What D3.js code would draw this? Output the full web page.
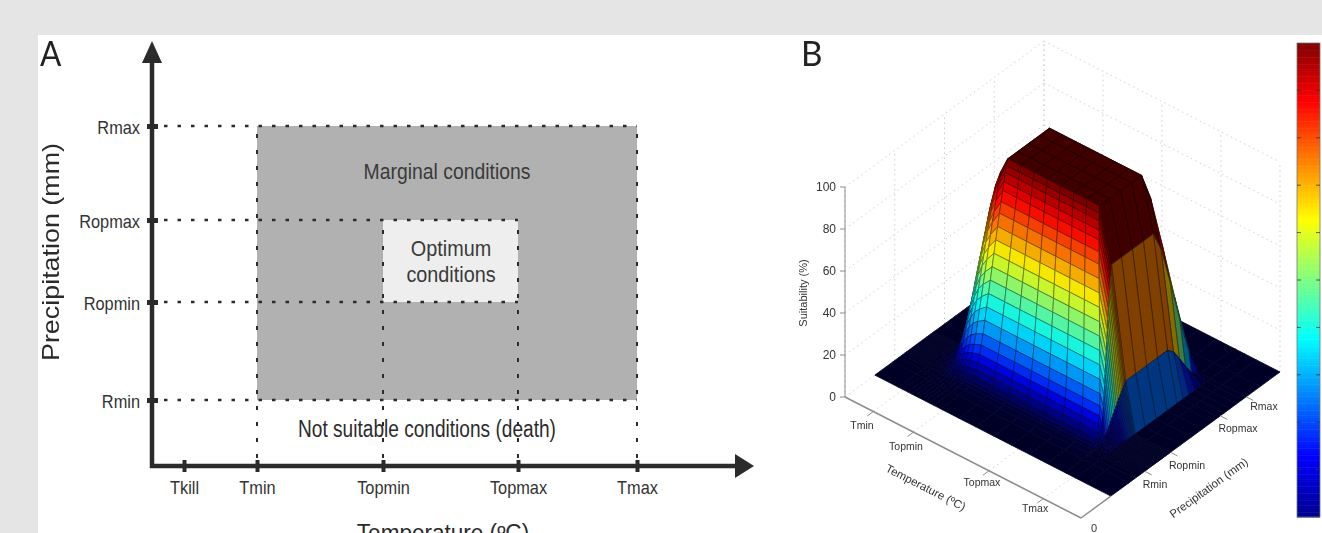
<!DOCTYPE html>
<html>
<head>
<meta charset="utf-8">
<script src="https://cdn.jsdelivr.net/npm/d3@7"></script>
<style>
  html, body { margin: 0; padding: 0; background: #e5e5e5; overflow: hidden; }
  svg { display: block; filter: blur(0.5px); }
  text { font-family: "Liberation Sans", Arial, sans-serif; }
</style>
</head>
<body>
<svg id="chart" width="1322" height="533"></svg>
<script>
// panel A: limits, positions are in axis units
var tempLabels = ["Tkill", "Tmin", "Topmin", "Topmax", "Tmax"];
var tempLimits = [32, 105, 231, 366, 485];
var precLabels = ["Rmin", "Ropmin", "Ropmax", "Rmax"];
var precLimits = [66, 164, 246, 340];

// panel B: response of suitability (%) along each axis, axes run 0-1
var tempGrid = [0, 0.1, 0.12, 0.14, 0.16, 0.18, 0.2, 0.22, 0.24, 0.26, 0.28, 0.31, 0.366, 0.422, 0.478, 0.534, 0.59, 0.645, 0.7, 0.75, 0.81, 0.85, 0.9, 1];
var tempResp = [0, 0, 1, 4, 11, 24, 42, 62, 75, 85, 92, 100, 100, 100, 100, 100, 100, 100, 100, 75, 23, 0, 0, 0];
// how far each temperature line fans out at the foot of the hill
var tempSpread = [0, 0, 0, 0, -0.005, -0.01, -0.015, -0.02, -0.025, -0.03, -0.03, -0.03, -0.01, 0.005, 0.025, 0.045, 0.065, 0.085, 0.105, 0.06, 0, 0, 0, 0];
var precGrid = [0.15, 0.24, 0.27, 0.29, 0.3, 0.31, 0.318, 0.326, 0.333, 0.34, 0.347, 0.354, 0.361, 0.368, 0.375, 0.382, 0.389, 0.396, 0.403, 0.41, 0.417, 0.424, 0.43, 0.435, 0.44, 0.445, 0.45, 0.5, 0.555, 0.61, 0.66, 0.69, 0.72, 0.75, 0.78, 0.81, 0.83, 0.9, 1];
var precResp = [0, 0, 0.5, 1, 1.5, 2.5, 4, 6.5, 9.5, 13, 17, 22, 28, 34, 40, 46, 52, 58, 64, 70, 76, 81, 86, 90, 94, 97, 100, 100, 100, 100, 100, 88, 65, 40, 18, 5, 0, 0, 0];

var suitTicks = [0, 20, 40, 60, 80, 100];
var tempTicks3d = [0.12, 0.29, 0.61, 0.84];
var tempTickLabels = ["Tmin", "Topmin", "Topmax", "Tmax"];
var precTicks3d = [0.32, 0.45, 0.7, 0.83];
var precTickLabels = ["Rmin", "Ropmin", "Ropmax", "Rmax"];
var wallGrid = [0.25, 0.5, 0.75];
var barTicks = [10, 20, 30, 40, 50, 60, 70, 80, 90];

var jetStops = [0, 12.5, 37.5, 62.5, 87.5, 100];
var jetColors = ["rgb(0,0,143)", "rgb(0,0,255)", "rgb(0,255,255)", "rgb(255,255,0)", "rgb(255,0,0)", "rgb(128,0,0)"];

var svg = d3.select("#chart");
var dark = "#2b2b2b";

svg.append("rect").attr("x", 38).attr("y", 35).attr("width", 1284).attr("height", 498).attr("fill", "#fff");

// squeeze a text to the narrow look of the original lettering
function squeeze(sel, k) {
    sel.each(function () {
        d3.select(this)
            .attr("textLength", this.getComputedTextLength() * k)
            .attr("lengthAdjust", "spacingAndGlyphs");
    });
}

/* ---------- panel A ---------- */
var x = d3.scaleLinear().domain([0, 600]).range([152, 752]);
var y = d3.scaleLinear().domain([0, 421]).range([466, 45]);
var a = svg.append("g");

a.append("rect")
    .attr("x", x(tempLimits[1])).attr("y", y(precLimits[3]))
    .attr("width", x(tempLimits[4]) - x(tempLimits[1]))
    .attr("height", y(precLimits[0]) - y(precLimits[3]))
    .attr("fill", "#b1b1b1");
a.append("rect")
    .attr("x", x(tempLimits[2])).attr("y", y(precLimits[2]))
    .attr("width", x(tempLimits[3]) - x(tempLimits[2]))
    .attr("height", y(precLimits[1]) - y(precLimits[2]))
    .attr("fill", "#eeeeee");

// dotted guides
var hEnd = [tempLimits[4], tempLimits[3], tempLimits[3], tempLimits[4]];
var vEnd = [precLimits[3], precLimits[2], precLimits[2], precLimits[3]];
a.selectAll("line.hg").data(precLimits).enter().append("line").attr("class", "hg")
    .attr("x1", x(0) + 12).attr("x2", function (d, i) { return x(hEnd[i]); })
    .attr("y1", function (d) { return y(d); }).attr("y2", function (d) { return y(d); })
    .attr("stroke", dark).attr("stroke-width", 2.3).attr("stroke-dasharray", "3.5 10");
a.selectAll("line.vg").data(tempLimits.slice(1)).enter().append("line").attr("class", "vg")
    .attr("x1", function (d) { return x(d); }).attr("x2", function (d) { return x(d); })
    .attr("y1", y(0) - 8).attr("y2", function (d, i) { return y(vEnd[i]); })
    .attr("stroke", dark).attr("stroke-width", 2).attr("stroke-dasharray", "4 12");

// axes
var xAxis = a.append("g").attr("transform", "translate(0," + y(0) + ")")
    .call(d3.axisBottom(x).tickValues(tempLimits).tickSize(0).tickPadding(15)
        .tickFormat(function (d, i) { return tempLabels[i]; }));
xAxis.select(".domain").remove();
xAxis.selectAll("text").attr("font-size", 19).attr("fill", "#333").attr("font-family", "Liberation Sans").call(squeeze, 0.86);
xAxis.selectAll(".tick").append("line").attr("y1", -6).attr("y2", 6).attr("stroke", dark).attr("stroke-width", 4);

var yAxis = a.append("g").attr("transform", "translate(" + x(0) + ",0)")
    .call(d3.axisLeft(y).tickValues(precLimits).tickSize(0).tickPadding(12)
        .tickFormat(function (d, i) { return precLabels[i]; }));
yAxis.select(".domain").remove();
yAxis.selectAll("text").attr("font-size", 19).attr("fill", "#333").attr("font-family", "Liberation Sans").attr("dy", "0.37em").call(squeeze, 0.86);
yAxis.selectAll(".tick").append("line").attr("x1", -5).attr("x2", 6).attr("stroke", dark).attr("stroke-width", 5);

a.append("path")
    .attr("d", "M" + x(0) + "," + y(408) + "V" + y(0) + "H" + x(590))
    .attr("fill", "none").attr("stroke", dark).attr("stroke-width", 4.5);
a.append("path")
    .attr("d", "M" + x(0) + "," + y(425) + "l10,22h-20z")
    .attr("fill", dark);
a.append("path")
    .attr("d", "M" + x(602) + "," + y(0) + "l-19,-12v24z")
    .attr("fill", dark);

a.append("text").attr("x", 447).attr("y", 179).attr("text-anchor", "middle")
    .attr("font-size", 22).attr("fill", "#3a3a3a").text("Marginal conditions").call(squeeze, 0.88);
a.append("text").attr("x", 451).attr("y", 256).attr("text-anchor", "middle")
    .attr("font-size", 22).attr("fill", "#3a3a3a").text("Optimum").call(squeeze, 0.9);
a.append("text").attr("x", 451).attr("y", 282).attr("text-anchor", "middle")
    .attr("font-size", 22).attr("fill", "#3a3a3a").text("conditions").call(squeeze, 0.9);
a.append("text").attr("x", 427).attr("y", 437).attr("text-anchor", "middle")
    .attr("font-size", 23).attr("fill", "#2b2b2b").text("Not suitable conditions (death)").call(squeeze, 0.83);
a.append("text").attr("x", 443).attr("y", 541).attr("text-anchor", "middle")
    .attr("font-size", 23).attr("fill", "#2b2b2b").text("Temperature (ºC)").call(squeeze, 0.98);
a.append("text").attr("transform", "translate(59,252) rotate(-90)").attr("text-anchor", "middle")
    .attr("font-size", 24).attr("fill", "#2b2b2b").text("Precipitation (mm)").call(squeeze, 1.12);
a.append("text").attr("x", 40).attr("y", 66).attr("font-size", 35).attr("fill", "#222")
    .style("font-family", "Lato").text("A").call(squeeze, 0.9);

/* ---------- panel B ---------- */
// orthographic box: temperature runs down-right, precipitation up-right
var tX = d3.scaleLinear().domain([0, 1]).range([0, 236]);
var tY = d3.scaleLinear().domain([0, 1]).range([0, 121]);
var rX = d3.scaleLinear().domain([0, 1]).range([0, 199]);
var rY = d3.scaleLinear().domain([0, 1]).range([0, -146]);
var zY = d3.scaleLinear().domain([0, 100]).range([0, -210]);

function proj(t, r, z) {
    return [845 + tX(t) + rX(r), 397 + tY(t) + rY(r) + zY(z)];
}
function segment(p, q) {
    return "M" + p[0] + "," + p[1] + "L" + q[0] + "," + q[1];
}
// grid node i,j of the surface
function node(i, j) {
    var t = tempGrid[i] + tempSpread[i] * (1 - precResp[j] / 100);
    return proj(t, precGrid[j], tempResp[i] * precResp[j] / 100);
}

var jet = d3.scaleLinear().domain(jetStops).range(jetColors).clamp(true);
var b = svg.append("g");

// dotted box grid
var gridLines = [];
suitTicks.forEach(function (z) {
    gridLines.push(segment(proj(0, 0, z), proj(0, 1, z)));
    gridLines.push(segment(proj(0, 1, z), proj(1, 1, z)));
});
wallGrid.concat([0, 1]).forEach(function (v) {
    gridLines.push(segment(proj(0, v, 0), proj(0, v, 100)));
    gridLines.push(segment(proj(v, 1, 0), proj(v, 1, 100)));
});
tempTicks3d.forEach(function (v) {
    gridLines.push(segment(proj(v, 0, 0), proj(v, 1, 0)));
});
b.selectAll("path.grid").data(gridLines).enter().append("path").attr("class", "grid")
    .attr("d", function (d) { return d; })
    .attr("stroke", "#cfcfcf").attr("stroke-width", 1).attr("stroke-dasharray", "1.5 3.5").attr("fill", "none");

// surface facets, painted from the far corner to the near one
var facets = [];
for (var j = precGrid.length - 2; j >= 0; j--) {
    for (var i = 0; i < tempGrid.length - 1; i++) {
        var z00 = tempResp[i] * precResp[j] / 100;
        var z10 = tempResp[i + 1] * precResp[j] / 100;
        var z01 = tempResp[i] * precResp[j + 1] / 100;
        var z11 = tempResp[i + 1] * precResp[j + 1] / 100;
        var dt = tempGrid[i + 1] - tempGrid[i];
        var dr = precGrid[j + 1] - precGrid[j];
        var dzdt = ((z10 + z11) - (z00 + z01)) / 2 / dt / 100 * 0.5;
        var dzdr = ((z01 + z11) - (z00 + z10)) / 2 / dr / 100 * 0.5;
        var len = Math.sqrt(dzdt * dzdt + dzdr * dzdr + 1);
        var lit = Math.max(0, (0.3 * dzdt + 0.95 * dzdr) / len);
        var peak = Math.max(z00, z10, z01, z11);
        var base = d3.rgb(jet(peak));
        var shade = 0.5 + 0.5 * lit;
        // the foot of the hill fades into the dark floor
        if (peak < 16) shade *= 0.55 + 0.45 * peak / 16;
        var fill = d3.rgb(base.r * shade, base.g * shade, base.b * shade);
        facets.push({
            pts: [node(i, j), node(i + 1, j), node(i + 1, j + 1), node(i, j + 1)],
            fill: fill.formatRgb(),
            edge: peak < 3 ? fill.formatRgb() : d3.interpolateRgb(fill, "#000")(0.5)
        });
    }
}
b.selectAll("path.facet").data(facets).enter().append("path").attr("class", "facet")
    .attr("d", function (d) { return "M" + d.pts.join("L") + "Z"; })
    .attr("fill", function (d) { return d.fill; })
    .attr("stroke", function (d) { return d.edge; })
    .attr("stroke-width", 0.8).attr("stroke-linejoin", "round");

// box axes
var axisGrey = "#8c8c8c";
b.append("path").attr("d", segment(proj(0, 0, 0), proj(0, 0, 100))).attr("stroke", axisGrey).attr("fill", "none");
b.append("path").attr("d", segment(proj(0, 0, 0), proj(1, 0, 0))).attr("stroke", axisGrey).attr("stroke-width", 1.5).attr("fill", "none");
b.append("path").attr("d", segment(proj(1, 0, 0), proj(1, 0.15, 0))).attr("stroke", axisGrey).attr("stroke-width", 1.5).attr("fill", "none");

b.selectAll("line.zt").data(suitTicks).enter().append("line").attr("class", "zt")
    .attr("x1", 845).attr("x2", 840)
    .attr("y1", function (d) { return proj(0, 0, d)[1]; }).attr("y2", function (d) { return proj(0, 0, d)[1]; })
    .attr("stroke", axisGrey);
b.selectAll("text.zl").data(suitTicks).enter().append("text").attr("class", "zl")
    .attr("x", 836).attr("y", function (d) { return proj(0, 0, d)[1] + 4; })
    .attr("text-anchor", "end").attr("font-size", 12).attr("fill", "#333")
    .text(function (d) { return d; });

// tick marks under the floor edges
b.selectAll("line.tt").data(tempTicks3d).enter().append("line").attr("class", "tt")
    .attr("x1", function (d) { return proj(d, 0, 0)[0]; }).attr("y1", function (d) { return proj(d, 0, 0)[1]; })
    .attr("x2", function (d) { return proj(d, -0.03, 0)[0]; }).attr("y2", function (d) { return proj(d, -0.03, 0)[1]; })
    .attr("stroke", axisGrey);
b.selectAll("line.rt").data(precTicks3d).enter().append("line").attr("class", "rt")
    .attr("x1", function (d) { return proj(1, d, 0)[0]; }).attr("y1", function (d) { return proj(1, d, 0)[1]; })
    .attr("x2", function (d) { return proj(1.03, d, 0)[0]; }).attr("y2", function (d) { return proj(1.03, d, 0)[1]; })
    .attr("stroke", axisGrey);

var tempLabelPos = [[862, 429], [906, 450], [982, 486], [1035, 512]];
var precLabelPos = [[1155, 488], [1187, 469], [1238, 432], [1264, 410]];
b.selectAll("text.tl").data(tempTickLabels).enter().append("text").attr("class", "tl")
    .attr("x", function (d, i) { return tempLabelPos[i][0]; }).attr("y", function (d, i) { return tempLabelPos[i][1]; })
    .attr("text-anchor", "middle").attr("font-size", 10.5).attr("fill", "#333").text(function (d) { return d; });
b.selectAll("text.rl").data(precTickLabels).enter().append("text").attr("class", "rl")
    .attr("x", function (d, i) { return precLabelPos[i][0]; }).attr("y", function (d, i) { return precLabelPos[i][1]; })
    .attr("text-anchor", "middle").attr("font-size", 10.5).attr("fill", "#333").text(function (d) { return d; });

b.append("text").attr("x", 1094).attr("y", 532).attr("text-anchor", "middle").attr("font-size", 11).attr("fill", "#333").text("0");
b.append("text").attr("transform", "translate(807,293) rotate(-90)").attr("text-anchor", "middle")
    .attr("font-size", 11).attr("fill", "#333").text("Suitability (%)");
b.append("text").attr("transform", "translate(924,491) rotate(27)").attr("text-anchor", "middle")
    .attr("font-size", 11.5).attr("fill", "#333").text("Temperature (ºC)");
b.append("text").attr("transform", "translate(1211,491) rotate(-36)").attr("text-anchor", "middle")
    .attr("font-size", 11.5).attr("fill", "#333").text("Precipitation (mm)");
b.append("text").attr("x", 801).attr("y", 66).attr("font-size", 35).attr("fill", "#222")
    .style("font-family", "Lato").text("B").call(squeeze, 0.95);

// colour bar
var barY = d3.scaleLinear().domain([0, 100]).range([517, 43]);
var barLevels = d3.range(0, 100, 0.5);
var barG = svg.append("g");
barG.selectAll("rect").data(barLevels).enter().append("rect")
    .attr("x", 1297).attr("width", 23)
    .attr("y", function (d) { return barY(d + 0.5); })
    .attr("height", barY(0) - barY(0.5) + 0.5)
    .attr("fill", function (d) { return jet(d); });
barG.append("rect").attr("x", 1297).attr("y", 43).attr("width", 23).attr("height", 474)
    .attr("fill", "none").attr("stroke", "#777").attr("stroke-width", 0.8);
barG.selectAll("line.bt").data(barTicks).enter().append("line").attr("class", "bt")
    .attr("x1", 1297).attr("x2", 1301)
    .attr("y1", function (d) { return barY(d); }).attr("y2", function (d) { return barY(d); })
    .attr("stroke", "#333").attr("stroke-width", 0.8);
barG.selectAll("line.bt2").data(barTicks).enter().append("line").attr("class", "bt2")
    .attr("x1", 1316).attr("x2", 1320)
    .attr("y1", function (d) { return barY(d); }).attr("y2", function (d) { return barY(d); })
    .attr("stroke", "#333").attr("stroke-width", 0.8);
</script>
</body>
</html>
